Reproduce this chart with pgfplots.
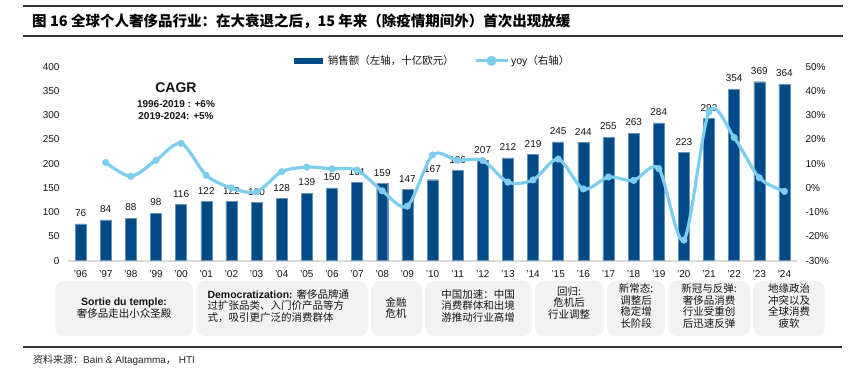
\documentclass[border=0pt]{standalone}
\usepackage{pgfplots}
\pgfplotsset{compat=1.18}
\usepackage{pgfplotstable}
\usepackage{fontspec}
\setmainfont{Liberation Sans}
\newfontfamily\cjk{Noto Sans CJK SC}
\newcommand\fs[2]{\fontsize{#1bp}{#2bp}\selectfont}
\newcommand\q{\char39\relax}
\definecolor{barblue}{RGB}{0,75,135}
\definecolor{lineblue}{RGB}{125,205,238}
\definecolor{boxgray}{RGB}{242,242,242}
\definecolor{axisgray}{RGB}{217,217,217}
\definecolor{txt}{RGB}{20,20,20}

\pgfplotstableread{
x sales yoy
0 76 nan
1 84 10.5
2 88 4.8
3 98 11.4
4 116 18.4
5 122 5.2
6 122 0.0
7 120 -1.6
8 128 6.7
9 139 8.6
10 150 7.9
11 161 7.3
12 159 -1.2
13 147 -7.5
14 167 13.6
15 186 11.4
16 207 11.3
17 212 2.4
18 219 3.3
19 245 11.9
20 244 -0.4
21 255 4.5
22 263 3.1
23 284 8.0
24 223 -21.5
25 293 31.4
26 354 20.8
27 369 4.2
28 364 -1.4
}\data

\begin{document}
\begin{tikzpicture}
\path[use as bounding box] (0,0) rectangle (854bp,369bp);

\begin{axis}[
  at={(68bp,108.3bp)}, anchor=south west,
  scale only axis, width=729bp, height=194bp,
  xmin=-0.5, xmax=28.5, ymin=0, ymax=400,
  ytick={0,50,...,400},
  xtick={0,...,28},
  xticklabels={\q96,\q97,\q98,\q99,\q00,\q01,\q02,\q03,\q04,\q05,\q06,\q07,\q08,\q09,\q10,\q11,\q12,\q13,\q14,\q15,\q16,\q17,\q18,\q19,\q20,\q21,\q22,\q23,\q24},
  axis x line*=bottom, axis y line*=left,
  y axis line style={draw=none},
  x axis line style={axisgray, line width=2bp, -},
  major tick length=0pt,
  tick label style={font=\fs{10}{12}, text=txt},
  /pgf/number format/assume math mode=true,
  xticklabel style={yshift=-6bp},
  yticklabel style={xshift=-5bp},
  ybar, bar width=11bp,
  nodes near coords,
  nodes near coords style={font=\fs{10}{12}, text=txt, inner sep=0pt, anchor=south, yshift=7bp},
  clip=false,
]
\addplot[fill=barblue, draw=barblue!60!white, line width=0.4bp] table[x=x,y=sales] {\data};
\end{axis}

\begin{axis}[
  at={(68bp,108.3bp)}, anchor=south west,
  scale only axis, width=729bp, height=194bp,
  xmin=-0.5, xmax=28.5, ymin=-30, ymax=50,
  ytick={-30,-20,...,50},
  yticklabel={\pgfmathprintnumber{\tick}\%},
  yticklabel style={xshift=5bp},
  axis y line*=right, axis x line=none,
  y axis line style={draw=none},
  major tick length=0pt,
  tick label style={font=\fs{10}{12}, text=txt},
  /pgf/number format/assume math mode=true,
  clip=false,
  legend style={at={(0.5,1.03)}, anchor=center, draw=none, fill=none,
    legend columns=2, font=\fs{10.5}{12}, text=txt,
    /tikz/every even column/.append style={column sep=18bp}},
]
\addlegendimage{legend image code/.code={\fill[barblue] (0bp,-2.5bp) rectangle (28bp,2.5bp);}}
\addlegendentry{\hspace{4bp}\cjk 销售额（左轴，十亿欧元）}
\addplot[lineblue, line width=3.2bp, smooth, mark=*, mark size=3.3bp,
  mark options={fill=lineblue, draw=lineblue, line width=0.5bp},
  legend image code/.code={\draw[lineblue,line width=3.2bp] (0bp,0bp) -- (32bp,0bp); \fill[lineblue] (16bp,0bp) circle (3.3bp);}]
  table[x=x,y=yoy] {\data};
\addlegendentry{yoy{\cjk（右轴）}}
\end{axis}

\begin{scope}[x=1bp, y=-1bp, shift={(0bp,369bp)}]
  \draw[line width=1.2bp, black!80] (23,6) -- (843,6);
  \draw[line width=1.2bp, black!80] (23,36) -- (843,36);
  \draw[line width=1.2bp, black!80] (23,347) -- (842,347);
  \node[anchor=west, inner sep=0pt, font=\fs{14.5}{16}] at (32,21)
    {\cjk\bfseries 图 16 全球个人奢侈品行业：在大衰退之后，15 年来（除疫情期间外）首次出现放缓};
  \node[anchor=west, inner sep=0pt, font=\fs{10}{12}, text=black!85] at (33,360)
    {{\cjk 资料来源：}Bain \& Altagamma{\cjk ，} HTI};

  \node[font=\bfseries\fs{14}{15}, text=txt] at (176,88) {CAGR};
  \node[font=\bfseries\fs{10}{12}, text=txt] at (176,104) {1996-2019 : +6\%};
  \node[font=\bfseries\fs{10}{12}, text=txt] at (176,116) {2019-2024: +5\%};

  \foreach \a/\b in {55/193, 196/368, 371/422, 425/532, 535/604, 607/665, 668/750, 753/825}{
    \fill[boxgray, rounded corners=9bp] (\a,281) rectangle (\b,336);
  }
  \node[align=center, font=\fs{10.5}{11.5}, text=txt] at (124,308)
    {\bfseries Sortie du temple:\\ \cjk 奢侈品走出小众圣殿};
  \node[align=left, anchor=west, font=\fs{10.5}{11.5}, text=txt] at (204,306)
    {{\bfseries Democratization: }{\cjk 奢侈品牌通}\\ {\cjk 过扩张品类、入门价产品等方}\\ {\cjk 式，吸引更广泛的消费群体}};
  \node[align=center, font=\fs{10.5}{11.5}, text=txt] at (396,308) {\cjk 金融\\ \cjk 危机};
  \node[align=center, font=\fs{10.5}{11.5}, text=txt] at (478,306) {\cjk 中国加速：中国\\ \cjk 消费群体和出境\\ \cjk 游推动行业高增};
  \node[align=center, font=\fs{10.5}{11.5}, text=txt] at (569,303) {\cjk 回归:\\ \cjk 危机后\\ \cjk 行业调整};
  \node[align=center, font=\fs{10.5}{11.5}, text=txt] at (636,306) {\cjk 新常态:\\ \cjk 调整后\\ \cjk 稳定增\\ \cjk 长阶段};
  \node[align=center, font=\fs{10.5}{11.5}, text=txt] at (709,306) {\cjk 新冠与反弹:\\ \cjk 奢侈品消费\\ \cjk 行业受重创\\ \cjk 后迅速反弹};
  \node[align=center, font=\fs{10.5}{11.5}, text=txt] at (789,306) {\cjk 地缘政治\\ \cjk 冲突以及\\ \cjk 全球消费\\ \cjk 疲软};
\end{scope}
\end{tikzpicture}
\end{document}
